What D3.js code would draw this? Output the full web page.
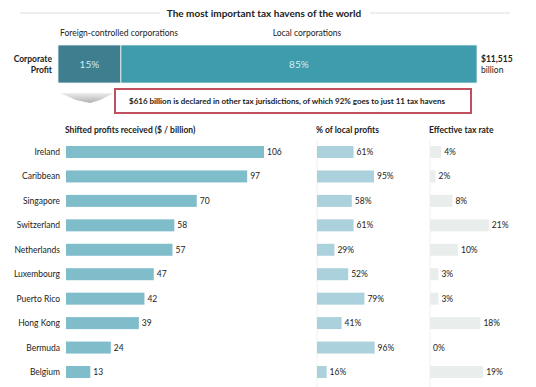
<!DOCTYPE html>
<html>
<head>
<meta charset="utf-8">
<script src="https://cdn.jsdelivr.net/npm/d3@7"></script>
<style>
  body { margin: 0; background: #fff; }
  text { font-family: Lato, "Open Sans", sans-serif; fill: #222; }
</style>
</head>
<body>
<script>
const title = 'The most important tax havens of the world';
const profitGroups = ['Foreign-controlled corporations', 'Local corporations'];
const profitShares = [15, 85];
const totalProfit = '$11,515';
const note = '$616 billion is declared in other tax jurisdictions, of which 92% goes to just 11 tax havens';

const countries = ['Ireland', 'Caribbean', 'Singapore', 'Switzerland', 'Netherlands',
  'Luxembourg', 'Puerto Rico', 'Hong Kong', 'Bermuda', 'Belgium'];
const shifted = [106, 97, 70, 58, 57, 47, 42, 39, 24, 13];
const localPct = [61, 95, 58, 61, 29, 52, 79, 41, 96, 16];
const taxRate = [4, 2, 8, 21, 10, 3, 3, 18, 0, 19];

const width = 536;
const height = 387;

const svg = d3.select('body')
  .append('svg')
  .attr('width', width)
  .attr('height', height);

// Title with rules on each side
svg.append('text')
  .attr('x', 264).attr('y', 17)
  .attr('text-anchor', 'middle')
  .attr('font-size', 10)
  .attr('font-weight', 'bold')
  .text(title);
svg.append('line').attr('x1', 20).attr('x2', 160).attr('y1', 13).attr('y2', 13)
  .attr('stroke', '#ddd');
svg.append('line').attr('x1', 370).attr('x2', 510).attr('y1', 13).attr('y2', 13)
  .attr('stroke', '#ddd');

// Corporate profit split bar
const xTop = d3.scaleLinear().domain([0, 100]).range([58, 477]);
const starts = d3.cumsum([0, ...profitShares]);
const topColors = ['#3f7e8f', '#3e9cad'];

svg.append('g')
  .selectAll('rect')
  .data(profitShares)
  .join('rect')
  .attr('x', (d, i) => xTop(starts[i]))
  .attr('y', 45)
  .attr('width', d => xTop(d) - xTop(0))
  .attr('height', 38)
  .attr('fill', (d, i) => topColors[i])
  .attr('stroke', '#e8f2f4')
  .attr('stroke-width', 0.8);

svg.append('g')
  .selectAll('text')
  .data(profitShares)
  .join('text')
  .attr('x', (d, i) => xTop(starts[i] + d / 2))
  .attr('y', 68)
  .attr('text-anchor', 'middle')
  .attr('font-size', 10)
  .style('fill', '#d4ecf0')
  .text(d => d + '%');

svg.append('text').attr('x', 60).attr('y', 36).attr('font-size', 8.5)
  .text(profitGroups[0]);
svg.append('text').attr('x', xTop(15 + 85 / 2) + 8).attr('y', 36).attr('font-size', 8.5)
  .attr('text-anchor', 'middle')
  .text(profitGroups[1]);

svg.append('text').attr('x', 52).attr('y', 62).attr('text-anchor', 'end')
  .attr('font-size', 8.5).attr('font-weight', 'bold').text('Corporate');
svg.append('text').attr('x', 52).attr('y', 73).attr('text-anchor', 'end')
  .attr('font-size', 8.5).attr('font-weight', 'bold').text('Profit');
svg.append('text').attr('x', 481).attr('y', 62)
  .attr('font-size', 8.5).attr('font-weight', 'bold').text(totalProfit);
svg.append('text').attr('x', 481).attr('y', 73)
  .attr('font-size', 8.5).text('billion');

// Grey funnel under the foreign part
const grad = svg.append('defs').append('linearGradient')
  .attr('id', 'funnel').attr('x1', 0).attr('x2', 0).attr('y1', 0).attr('y2', 1);
grad.append('stop').attr('offset', 0).attr('stop-color', '#eeeeee');
grad.append('stop').attr('offset', 1).attr('stop-color', '#b0b0b0');
svg.append('path')
  .attr('d', 'M60,93 L114,93 L100,100 L90,103 L76,100 Z')
  .attr('fill', 'url(#funnel)');

// Note box
svg.append('rect')
  .attr('x', 115).attr('y', 89).attr('width', 356).attr('height', 24)
  .attr('fill', '#fff')
  .attr('stroke', '#c0505e')
  .attr('stroke-width', 2);
svg.append('text')
  .attr('x', 129).attr('y', 104)
  .attr('font-size', 8)
  .attr('font-weight', 'bold')
  .text(note);

// Rows
const y = d3.scalePoint().domain(countries).range([152, 372]);
const barH = 12;

const panels = [
  { title: 'Shifted profits received ($  / billion)', values: shifted,
    scale: d3.scaleLinear().domain([0, 106]).range([66, 264]),
    color: '#7fbdcb', fmt: d => d, tx: 65 },
  { title: '% of local profits', values: localPct,
    scale: d3.scaleLinear().domain([0, 100]).range([317, 377]),
    color: '#abd2dc', fmt: d => d + '%', tx: 316 },
  { title: 'Effective tax rate', values: taxRate,
    scale: d3.scaleLinear().domain([0, 25]).range([430, 500]),
    color: '#e9edec', fmt: d => d + '%', tx: 429 }
];

panels.forEach((p, k) => {
  const g = svg.append('g');
  if (k > 0) {
    g.append('line')
      .attr('x1', p.scale(0)).attr('x2', p.scale(0))
      .attr('y1', 140).attr('y2', height)
      .attr('stroke', '#f0f0f0');
  }
  g.append('text')
    .attr('x', p.tx).attr('y', 133)
    .attr('font-size', 8.5)
    .attr('font-weight', 'bold')
    .text(p.title);
  g.selectAll('rect')
    .data(p.values)
    .join('rect')
    .attr('x', p.scale(0))
    .attr('y', (d, i) => y(countries[i]) - barH / 2)
    .attr('width', d => p.scale(d) - p.scale(0))
    .attr('height', barH)
    .attr('fill', p.color);
  g.selectAll('text.val')
    .data(p.values)
    .join('text')
    .attr('class', 'val')
    .attr('x', d => p.scale(d) + 3)
    .attr('y', (d, i) => y(countries[i]) + 3)
    .attr('font-size', 8.5)
    .text(p.fmt);
});

svg.append('g')
  .selectAll('text')
  .data(countries)
  .join('text')
  .attr('x', 60)
  .attr('y', d => y(d) + 3)
  .attr('text-anchor', 'end')
  .attr('font-size', 8.5)
  .text(d => d);
</script>
</body>
</html>
